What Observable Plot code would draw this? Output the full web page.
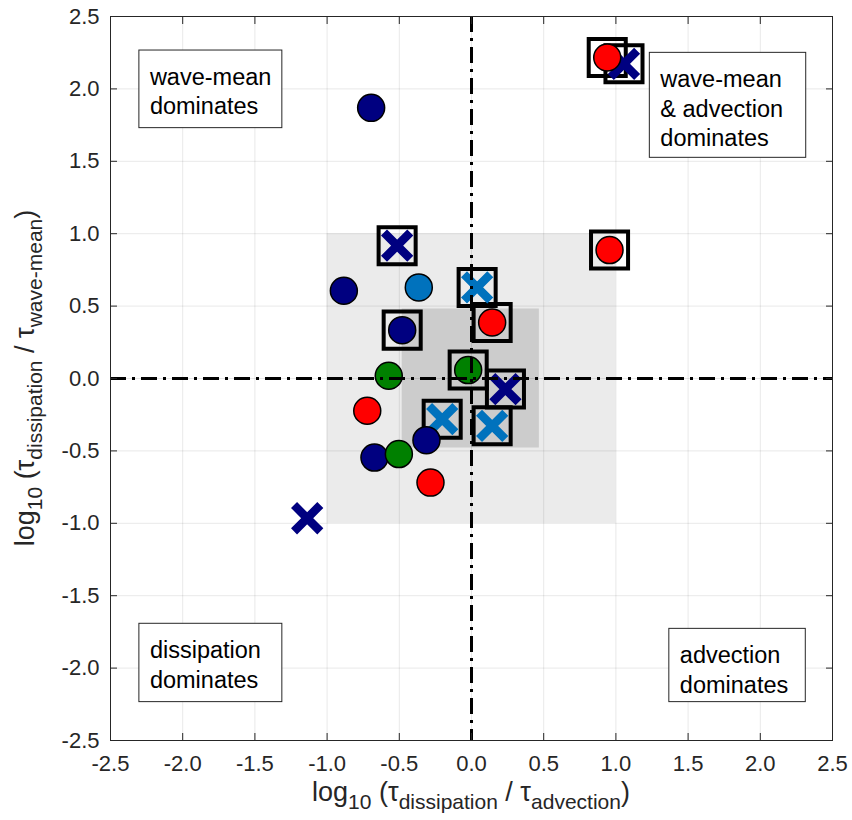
<!DOCTYPE html>
<html><head><meta charset="utf-8">
<script src="https://cdn.jsdelivr.net/npm/d3@7"></script>
<script src="https://cdn.jsdelivr.net/npm/@observablehq/plot@0.6"></script>
<style>body{margin:0;background:#fff} svg{display:block}</style>
</head><body><div id="chart"></div>
<script>
// ---- data ----
const xVals   = [-0.695, 0.940, 1.056, 0.956, -0.515, -0.884, -0.365, 0.039, -0.480, 0.143, -0.573, -0.023, 0.235, -0.722, -0.203, 0.143, -0.672, -0.503, -0.312, -0.284, -1.138];
const yVals   = [ 1.869, 2.217, 2.173, 0.887,  0.917,  0.606,  0.629, 0.629,  0.334, 0.387,  0.019,  0.058, -0.073, -0.223, -0.281, -0.327, -0.546, -0.522, -0.426, -0.719, -0.965];
const groups  = ["A","D","A","D","A","A","B","B","A","D","C","C","A","D","B","B","A","C","A","D","A"];
const markers = ["circle","circle","cross","circle","cross","circle","circle","cross","circle","circle","circle","circle","cross","circle","cross","cross","circle","circle","circle","circle","cross"];
const boxed   = [false,true,true,true,true,false,false,true,true,true,false,true,true,false,true,true,false,false,false,false,false];
const groupNames  = ["A","B","C","D"];
const groupColors = ["#000080","#0072BD","#008000","#FF0000"];
const ticks = [-2.5,-2.0,-1.5,-1.0,-0.5,0.0,0.5,1.0,1.5,2.0,2.5];
const shadeOuterX = [-1, 1],     shadeOuterY = [-1, 1];
const shadeInnerX = [-0.48, 0.47], shadeInnerY = [-0.48, 0.48];
const noteLabels = ["wave-mean\ndominates", "wave-mean\n& advection\ndominates", "dissipation\ndominates", "advection\ndominates"];
const noteX1 = [-2.30, 1.235, -2.30, 1.37];
const noteX2 = [-1.31, 2.318, -1.31, 2.315];
const noteYTop = [2.265, 2.249, -1.694, -1.729];
const noteYBot = [1.729, 1.524, -2.235, -2.235];

const points = xVals.map((x, i) => ({x, y: yVals[i], group: groups[i], marker: markers[i], boxed: boxed[i]}));
const notes = noteLabels.map((label, i) => ({label, x1: noteX1[i], x2: noteX2[i], y1: noteYTop[i], y2: noteYBot[i]}));
const shades = [
  {x1: shadeOuterX[0], x2: shadeOuterX[1], y1: shadeOuterY[0], y2: shadeOuterY[1], f: "#ebebeb"},
  {x1: shadeInnerX[0], x2: shadeInnerX[1], y1: shadeInnerY[0], y2: shadeInnerY[1], f: "#cccccc"}
];
const fmt = d => d.toFixed(1);
const axisColor = "#262626";

const chart = Plot.plot({
  width: 852, height: 820,
  marginLeft: 110, marginRight: 20, marginTop: 16, marginBottom: 80,
  style: {fontFamily: "'Liberation Sans', Arial, Helvetica, sans-serif", background: "#fff"},
  x: {domain: [-2.5, 2.5], label: null},
  y: {domain: [-2.5, 2.5], label: null},
  color: {type: "ordinal", domain: groupNames, range: groupColors},
  marks: [
    Plot.rect(shades, {x1: "x1", x2: "x2", y1: "y1", y2: "y2", fill: "f"}),
    Plot.gridX(ticks, {stroke: "#000", strokeOpacity: 0.09}),
    Plot.gridY(ticks, {stroke: "#000", strokeOpacity: 0.09}),
    Plot.rect(notes, {x1: "x1", x2: "x2", y1: "y1", y2: "y2", fill: "#fff", stroke: axisColor, strokeWidth: 1}),
    Plot.text(notes, {x: "x1", y: "y1", text: "label", textAnchor: "start", lineAnchor: "top", dx: 10.5, dy: 13.5, lineHeight: 1.25, fontSize: 23.5, fill: "#000"}),
    Plot.dot(points.filter(d => d.boxed), {x: "x", y: "y", symbol: "square", r: 20.9, stroke: "#000", strokeWidth: 4, fill: "none"}),
    Plot.dot(points.filter(d => d.marker === "cross"), {x: "x", y: "y", symbol: "times", r: 12, stroke: "group", strokeWidth: 8.5}),
    Plot.dot(points.filter(d => d.marker === "circle"), {x: "x", y: "y", r: 13.5, fill: "group", stroke: "#000", strokeWidth: 1.5}),
    Plot.ruleX([0], {stroke: "#000", strokeWidth: 3, strokeDasharray: "16,6,3,6"}),
    Plot.ruleY([0], {stroke: "#000", strokeWidth: 3, strokeDasharray: "16,6,3,6"}),
    Plot.frame({stroke: axisColor, strokeWidth: 1}),
    Plot.axisX(ticks, {anchor: "bottom", tickSize: 0, tickPadding: 15, tickFormat: fmt, fontSize: 22, fill: axisColor, label: null}),
    Plot.axisY(ticks, {anchor: "left", tickSize: 0, tickPadding: 11, tickFormat: fmt, fontSize: 22, fill: axisColor, label: null}),
    Plot.axisX(ticks, {anchor: "bottom", tickSize: -7, fill: "none", stroke: axisColor, label: null}),
    Plot.axisX(ticks, {anchor: "top", tickSize: -7, fill: "none", stroke: axisColor, label: null}),
    Plot.axisY(ticks, {anchor: "left", tickSize: -7, fill: "none", stroke: axisColor, label: null}),
    Plot.axisY(ticks, {anchor: "right", tickSize: -7, fill: "none", stroke: axisColor, label: null})
  ]
});
document.getElementById("chart").appendChild(chart);

// axis titles with subscripts
const svg = d3.select(chart);
function richLabel(g, parts) {
  const t = g.append("text").attr("text-anchor", "middle").attr("fill", axisColor)
    .style("font-size", "27px").style("font-family", "'Liberation Sans', Arial, Helvetica, sans-serif");
  let level = 0;
  for (const [s, sub] of parts) {
    const ts = t.append("tspan").text(s);
    const target = sub ? 8 : 0;
    if (target !== level) ts.attr("dy", target - level);
    level = target;
    if (sub) ts.style("font-size", "21px");
  }
  return t;
}
const xg = svg.append("g").attr("transform", "translate(471,801)");
richLabel(xg, [["log", 0], ["10", 1], [" (\u03C4", 0], ["dissipation", 1], [" / \u03C4", 0], ["advection", 1], [")", 0]]);
const yg = svg.append("g").attr("transform", "translate(34,378) rotate(-90)");
richLabel(yg, [["log", 0], ["10", 1], [" (\u03C4", 0], ["dissipation", 1], [" / \u03C4", 0], ["wave-mean", 1], [")", 0]]);
</script>
</body></html>
